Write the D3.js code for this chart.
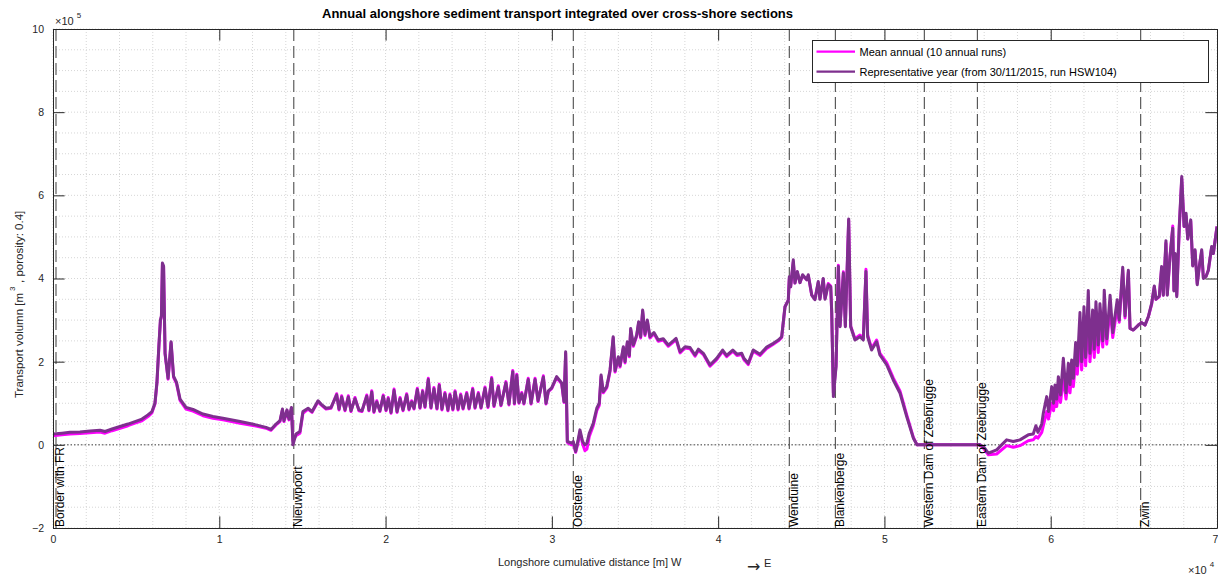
<!DOCTYPE html>
<html>
<head>
<meta charset="utf-8">
<script src="https://cdn.jsdelivr.net/npm/d3@7"></script>
<style>
  body { margin: 0; background: #fff; }
  svg { font-family: "Liberation Sans", Arial, Helvetica, sans-serif; }
</style>
</head>
<body>
<svg id="chart" width="1218" height="575"></svg>
<script>
// alongshore distance [m]
const distance = [
  0, 540, 1020, 1620, 2230, 2830, 3130, 3550, 4030, 4510, 4930, 5350, 5710, 5950,
  6130, 6250, 6370, 6460, 6520, 6580, 6650, 6740, 6920, 7100, 7250, 7430, 7640,
  8000, 8420, 9020, 9620, 10220, 11250, 12210, 12810, 13110, 13410, 13650, 13800,
  13890, 14070, 14190, 14340, 14430, 14610, 14850, 15030, 15340, 15580, 15940, 16120,
  16420, 16720, 17060, 17200, 17360, 17560, 17760, 17920, 18160, 18400, 18580, 18870,
  19000, 19170, 19300, 19470, 19660, 19860, 20030, 20160, 20330, 20510, 20690, 20870,
  21050, 21270, 21410, 21570, 21710, 21910, 22070, 22230, 22370, 22570, 22730, 22910,
  23090, 23230, 23390, 23570, 23750, 23870, 24050, 24180, 24360, 24520, 24660, 24880,
  25020, 25240, 25380, 25580, 25740, 25980, 26160, 26380, 26520, 26780, 26940, 27240,
  27420, 27650, 27750, 27890, 28020, 28190, 28320, 28580, 28750, 28990, 29170, 29490,
  29650, 29790, 29990, 30290, 30590, 30730, 30830, 30930, 31190, 31290, 31430, 31570,
  31690, 31850, 31990, 32110, 32250, 32490, 32700, 32850, 32960, 33090, 33300, 33500,
  33690, 33800, 34000, 34100, 34300, 34400, 34540, 34660, 34740, 34900, 35100, 35220,
  35340, 35460, 35600, 35740, 35900, 36140, 36400, 36700, 37000, 37300, 37470, 37710,
  38010, 38310, 38610, 38810, 39110, 39510, 39910, 40270, 40510, 40880, 41130, 41420,
  41550, 41810, 42110, 42520, 42920, 43320, 43620, 43820, 44020, 44220, 44280, 44360,
  44520, 44620, 44760, 44920, 45080, 45330, 45420, 45630, 45820, 46020, 46120, 46320,
  46430, 46620, 46770, 46830, 46930, 47090, 47230, 47330, 47530, 47650, 47850, 47970,
  48230, 48530, 48730, 48890, 48990, 49230, 49530, 49730, 50140, 50530, 50940, 51340,
  51740, 51960, 53340, 54540, 55750, 55950, 56250, 56750, 57350, 57750, 58150, 58650,
  58950, 59110, 59230, 59460, 59550, 59760, 59870, 60060, 60170, 60260, 60360, 60460,
  60590, 60760, 60920, 61060, 61160, 61260, 61360, 61500, 61600, 61760, 61860, 62000,
  62100, 62260, 62360, 62520, 62620, 62720, 62860, 62960, 63130, 63220, 63370, 63570,
  63730, 64000, 64120, 64330, 64470, 64670, 64770, 64970, 65270, 65470, 65670, 65870,
  66070, 66230, 66330, 66530, 66670, 66770, 66930, 67010, 67170, 67340, 67410, 67490,
  67580, 67730, 67880, 68020, 68140, 68240, 68420, 68540, 68680, 68810, 68940, 69080,
  69180, 69340, 69480, 69680, 69780, 70000
];

// representative year, x 1e5 m3
const repYear = [
  0.26, 0.28, 0.30, 0.31, 0.33, 0.35, 0.32, 0.38, 0.44, 0.50, 0.56, 0.62, 0.72, 0.80,
  1.00, 1.50, 2.40, 3.00, 3.10, 4.37, 4.30, 2.20, 1.60, 2.48, 1.65, 1.50, 1.10,
  0.90, 0.85, 0.74, 0.68, 0.64, 0.56, 0.48, 0.42, 0.37, 0.50, 0.58, 0.86,
  0.58, 0.84, 0.62, 0.90, 0.00, 0.26, 0.32, 0.80, 0.88, 0.80, 1.06, 0.98,
  0.88, 0.90, 1.20, 0.86, 1.15, 0.84, 1.15, 0.82, 1.11, 0.84, 0.82, 1.17,
  0.84, 1.27, 0.80, 1.03, 0.82, 1.17, 0.84, 1.11, 0.78, 1.31, 0.80, 1.11,
  0.84, 1.20, 0.86, 1.03, 0.88, 1.33, 0.90, 1.28, 0.92, 1.57, 0.90, 1.35,
  0.88, 1.43, 0.86, 1.23, 0.84, 1.19, 0.86, 1.27, 0.86, 1.19, 0.88, 1.23,
  0.88, 1.33, 0.90, 1.23, 0.90, 1.36, 0.92, 1.59, 0.94, 1.39, 0.96, 1.49,
  0.98, 1.76, 1.00, 1.67, 1.02, 1.23, 1.00, 1.57, 1.00, 1.57, 1.06, 1.63,
  1.00, 1.30, 1.37, 1.64, 1.49, 1.04, 2.24, 0.08, 0.04, 0.08, -0.16, 0.10,
  0.36, 0.08, 0.00, 0.04, 0.28, 0.52, 0.88, 1.00, 1.68, 1.28, 1.40, 1.80,
  2.60, 1.78, 2.12, 1.90, 2.36, 2.00, 2.48, 2.15, 2.80, 2.40, 2.64, 2.96,
  2.60, 3.24, 2.66, 3.00, 2.60, 2.70, 2.52, 2.55, 2.40, 2.50, 2.56, 2.24,
  2.36, 2.34, 2.16, 2.30, 2.20, 1.92, 2.08, 2.28, 2.15, 2.28, 2.18, 2.20,
  2.08, 1.96, 2.28, 2.18, 2.35, 2.44, 2.52, 2.60, 3.32, 3.48, 4.04, 3.80,
  4.45, 3.89, 4.17, 3.90, 4.09, 3.97, 4.09, 3.60, 3.49, 3.93, 3.50, 4.00,
  3.50, 3.85, 3.80, 3.17, 1.16, 1.88, 4.29, 2.84, 4.13, 2.84, 5.43, 2.84,
  2.52, 2.60, 2.52, 4.17, 2.60, 2.28, 2.48, 2.16, 1.92, 1.56, 1.24, 0.68,
  0.16, 0.00, 0.00, 0.00, 0.00, -0.04, -0.20, -0.12, 0.12, 0.08, 0.12, 0.24,
  0.26, 0.46, 0.30, 0.50, 0.75, 1.16, 0.80, 1.40, 1.00, 1.44, 1.10, 1.64,
  1.20, 2.08, 1.25, 1.96, 1.45, 2.04, 1.60, 2.46, 1.90, 3.18, 2.00, 3.32,
  2.10, 3.71, 2.20, 3.24, 2.30, 3.44, 2.40, 3.39, 2.50, 3.72, 2.55, 3.60,
  2.70, 3.49, 3.00, 4.27, 3.10, 4.20, 2.80, 2.76, 2.88, 2.94, 2.88, 3.08,
  3.40, 3.82, 3.50, 3.58, 4.29, 3.60, 4.91, 3.60, 4.53, 5.21, 3.70, 4.60,
  3.56, 5.25, 6.45, 5.25, 5.57, 4.95, 5.41, 4.30, 4.69, 3.85, 4.30, 4.69,
  4.00, 4.05, 4.20, 4.77, 4.60, 5.25
];

// mean of 10 annual runs, x 1e5 m3
const meanAnnual = [
  0.22, 0.24, 0.26, 0.27, 0.29, 0.31, 0.28, 0.34, 0.40, 0.46, 0.52, 0.58, 0.68, 0.77,
  0.98, 1.48, 2.38, 2.98, 3.08, 4.33, 4.28, 2.18, 1.58, 2.45, 1.62, 1.47, 1.07,
  0.86, 0.81, 0.70, 0.64, 0.60, 0.52, 0.45, 0.40, 0.35, 0.48, 0.56, 0.84,
  0.56, 0.82, 0.60, 0.88, 0.10, 0.22, 0.28, 0.76, 0.86, 0.78, 1.04, 0.96,
  0.86, 0.88, 1.23, 0.84, 1.18, 0.82, 1.18, 0.80, 1.14, 0.82, 0.80, 1.20,
  0.82, 1.30, 0.78, 1.06, 0.80, 1.20, 0.82, 1.14, 0.76, 1.34, 0.78, 1.14,
  0.82, 1.23, 0.84, 1.06, 0.86, 1.36, 0.88, 1.31, 0.90, 1.60, 0.88, 1.38,
  0.86, 1.46, 0.84, 1.26, 0.82, 1.22, 0.84, 1.30, 0.84, 1.22, 0.86, 1.26,
  0.86, 1.36, 0.88, 1.26, 0.88, 1.39, 0.90, 1.62, 0.92, 1.42, 0.94, 1.52,
  0.96, 1.79, 0.98, 1.70, 1.00, 1.26, 0.98, 1.60, 0.98, 1.60, 1.04, 1.66,
  0.98, 1.28, 1.35, 1.62, 1.47, 1.02, 2.20, 0.06, 0.00, 0.04, -0.18, 0.04,
  0.30, 0.02, -0.14, -0.10, 0.20, 0.46, 0.82, 0.95, 1.64, 1.25, 1.37, 1.77,
  2.57, 1.75, 2.09, 1.87, 2.33, 1.97, 2.45, 2.12, 2.77, 2.37, 2.61, 2.93,
  2.57, 3.21, 2.63, 2.97, 2.57, 2.67, 2.49, 2.52, 2.37, 2.47, 2.53, 2.21,
  2.33, 2.31, 2.13, 2.27, 2.17, 1.89, 2.05, 2.25, 2.12, 2.25, 2.15, 2.17,
  2.05, 1.93, 2.25, 2.15, 2.32, 2.42, 2.50, 2.58, 3.32, 3.48, 4.00, 3.80,
  4.40, 3.89, 4.15, 3.90, 4.07, 3.97, 4.07, 3.60, 3.50, 3.90, 3.52, 3.98,
  3.52, 3.88, 3.82, 3.20, 1.25, 1.90, 4.32, 2.86, 4.16, 2.86, 5.40, 2.86,
  2.55, 2.64, 2.56, 4.22, 2.64, 2.32, 2.52, 2.20, 1.97, 1.61, 1.29, 0.72,
  0.18, 0.00, 0.00, 0.00, 0.00, -0.08, -0.24, -0.22, -0.02, -0.06, -0.02, 0.10,
  0.12, 0.20, 0.16, 0.30, 0.45, 0.80, 0.62, 1.00, 0.82, 1.10, 0.92, 1.30,
  1.02, 1.60, 1.10, 1.60, 1.25, 1.70, 1.40, 2.00, 1.70, 2.60, 1.80, 2.70,
  1.90, 3.10, 2.00, 2.80, 2.10, 3.00, 2.22, 3.00, 2.35, 3.30, 2.42, 3.30,
  2.58, 3.30, 2.95, 4.20, 3.05, 4.15, 2.80, 2.76, 2.88, 2.94, 2.88, 3.08,
  3.38, 3.80, 3.50, 3.56, 4.25, 3.60, 4.85, 3.62, 4.50, 5.26, 3.72, 4.58,
  3.60, 5.20, 6.40, 5.25, 5.50, 4.95, 5.38, 4.32, 4.66, 3.88, 4.30, 4.65,
  4.02, 4.05, 4.20, 4.75, 4.60, 5.25
];

const landmarkNames = ["Border with FR", "Nieuwpoort", "Oostende", "Wenduine", "Blankenberge",
  "Western Dam of Zeebrugge", "Eastern Dam of Zeebrugge", "Zwin"];
const landmarkPos = [180, 14480, 31290, 44280, 47050, 52400, 55590, 65410];

const xTicks = [0, 10000, 20000, 30000, 40000, 50000, 60000, 70000];
const yTicks = [-2, 0, 2, 4, 6, 8, 10];

const seriesNames = ["Mean annual (10 annual runs)", "Representative year (from 30/11/2015, run HSW104)"];
const seriesColors = ["#ff00ff", "#7e2f8e"];

const svg = d3.select("#chart");
const axL = 53, axR = 1217, axT = 29, axB = 528;
const axisColor = "#262626";

const x = d3.scaleLinear().domain([0, 70000]).range([axL, axR]);
const y = d3.scaleLinear().domain([-2, 10]).range([axB, axT]);

// grid (major + minor, all dotted)
const grid = svg.append("g");
grid.selectAll(".vg").data(d3.range(0, 70001, 2000)).enter().append("line")
    .attr("x1", d => x(d)).attr("x2", d => x(d)).attr("y1", axT).attr("y2", axB)
    .attr("stroke", "#d6d6d6").attr("stroke-width", 1).attr("stroke-dasharray", "1,2");
grid.selectAll(".hg").data(d3.range(-2, 10.01, 0.5)).enter().append("line")
    .attr("x1", axL).attr("x2", axR).attr("y1", d => y(d)).attr("y2", d => y(d))
    .attr("stroke", "#d6d6d6").attr("stroke-width", 1).attr("stroke-dasharray", "1,2");

// zero line
svg.append("line")
    .attr("x1", axL).attr("x2", axR).attr("y1", y(0)).attr("y2", y(0))
    .attr("stroke", "#444").attr("stroke-width", 1).attr("stroke-dasharray", "1.5,2");

// landmark lines
svg.selectAll(".lm").data(landmarkPos).enter().append("line")
    .attr("x1", d => x(d)).attr("x2", d => x(d)).attr("y1", axT).attr("y2", axB)
    .attr("stroke", "#4d4d4d").attr("stroke-width", 1.1).attr("stroke-dasharray", "12,5");

// series
svg.append("clipPath").attr("id", "clip").append("rect")
    .attr("x", axL).attr("y", axT).attr("width", axR - axL).attr("height", axB - axT);

const line = d3.line().x(d => x(d[0])).y(d => y(d[1]));
const plot = svg.append("g").attr("clip-path", "url(#clip)");
[meanAnnual, repYear].forEach((vals, i) => {
    plot.append("path")
        .datum(distance.map((d, k) => [d, vals[k]]))
        .attr("d", line)
        .attr("fill", "none")
        .attr("stroke", seriesColors[i])
        .attr("stroke-width", 3)
        .attr("stroke-linejoin", "round");
});

// landmark labels
svg.selectAll(".lml").data(landmarkPos).enter().append("text")
    .attr("transform", d => `translate(${x(d) + 8.5},${axB - 1}) rotate(-90)`)
    .attr("font-size", 12).attr("fill", "#000")
    .text((d, i) => landmarkNames[i]);

// axes
const tickLen = 11.6;
svg.append("g").attr("transform", `translate(0,${axB})`)
    .call(d3.axisBottom(x).tickValues(xTicks).tickSizeInner(-tickLen).tickSizeOuter(0).tickPadding(8)
        .tickFormat(d => d / 10000))
    .call(g => g.selectAll("text").attr("font-size", 10.5).attr("fill", axisColor)
        .attr("dx", d => d === 70000 ? -2 : 0));
svg.append("g").attr("transform", `translate(0,${axT})`)
    .call(d3.axisTop(x).tickValues(xTicks).tickSizeInner(-tickLen).tickSizeOuter(0).tickFormat(""));
svg.append("g").attr("transform", `translate(${axL},0)`)
    .call(d3.axisLeft(y).tickValues(yTicks).tickSizeInner(-tickLen).tickSizeOuter(0).tickPadding(9))
    .call(g => g.selectAll("text").attr("font-size", 10.5).attr("fill", axisColor));
svg.append("g").attr("transform", `translate(${axR},0)`)
    .call(d3.axisRight(y).tickValues(yTicks).tickSizeInner(-tickLen).tickSizeOuter(0).tickFormat(""));
svg.selectAll(".domain, .tick line").attr("stroke", axisColor);
svg.selectAll(".tick text").attr("font-family", "Liberation Sans, Arial, sans-serif");

// exponents
const e5 = svg.append("text").attr("x", 55).attr("y", 25).attr("font-size", 11).attr("fill", axisColor);
e5.append("tspan").text("\u00d710");
e5.append("tspan").attr("dy", -7).attr("dx", 3).attr("font-size", 8).text("5");
const e4 = svg.append("text").attr("x", 1188).attr("y", 574).attr("font-size", 11).attr("fill", axisColor);
e4.append("tspan").text("\u00d710");
e4.append("tspan").attr("dy", -7).attr("dx", 3).attr("font-size", 8).text("4");

// title
svg.append("text").attr("x", 557.5).attr("y", 18).attr("text-anchor", "middle")
    .attr("font-size", 13).attr("font-weight", "bold").attr("fill", "#000")
    .text("Annual alongshore sediment transport integrated over cross-shore sections");

// x label
svg.append("text").attr("x", 498).attr("y", 566).attr("font-size", 11).attr("fill", axisColor)
    .text("Longshore cumulative distance [m] W");
svg.append("text").attr("x", 747).attr("y", 572).attr("font-size", 16)
    .attr("font-family", "DejaVu Sans, sans-serif").attr("fill", axisColor).text("\u2192");
svg.append("text").attr("x", 764).attr("y", 567).attr("font-size", 11).attr("fill", axisColor).text("E");

// y label
const yl1 = svg.append("text").attr("transform", "translate(23,398) rotate(-90)")
    .attr("font-size", 11.5).attr("fill", axisColor).text("Transport volumn [m");
const l1 = yl1.node().getComputedTextLength();
svg.append("text").attr("transform", `translate(15,${398 - l1 - 2}) rotate(-90)`)
    .attr("font-size", 8).attr("fill", axisColor).text("3");
svg.append("text").attr("transform", `translate(23,${398 - l1 - 10}) rotate(-90)`)
    .attr("font-size", 11.5).attr("fill", axisColor).text(", porosity: 0.4]");

// legend
const lg = svg.append("g");
lg.append("rect").attr("x", 812.5).attr("y", 40.5).attr("width", 396).attr("height", 42)
    .attr("fill", "#fff").attr("stroke", axisColor).attr("stroke-width", 1);
seriesNames.forEach((name, i) => {
    const ly = 51.7 + i * 20;
    lg.append("line").attr("x1", 816.5).attr("x2", 855).attr("y1", ly).attr("y2", ly)
        .attr("stroke", seriesColors[i]).attr("stroke-width", 2.2);
    lg.append("text").attr("x", 859.5).attr("y", ly + 3.9).attr("font-size", 11).attr("fill", "#000").text(name);
});
</script>
</body>
</html>
